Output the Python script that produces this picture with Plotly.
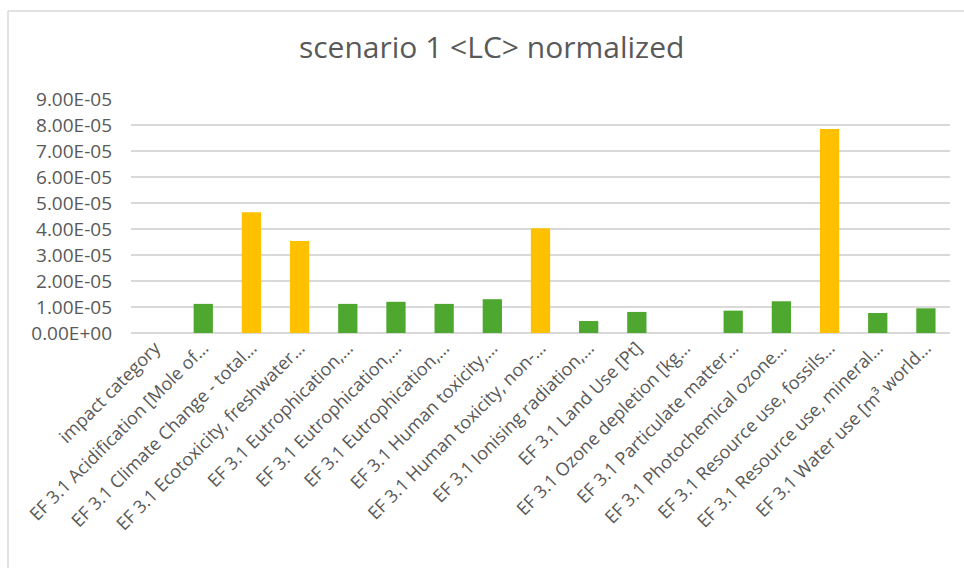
import plotly.graph_objects as go

# Impact categories (labels as shown on the axis, truncated)
categories = [
    "impact category",
    "EF 3.1 Acidification [Mole of…",
    "EF 3.1 Climate Change - total…",
    "EF 3.1 Ecotoxicity, freshwater…",
    "EF 3.1 Eutrophication,…",
    "EF 3.1 Eutrophication,…",
    "EF 3.1 Eutrophication,…",
    "EF 3.1 Human toxicity,…",
    "EF 3.1 Human toxicity, non-…",
    "EF 3.1 Ionising radiation,…",
    "EF 3.1 Land Use [Pt]",
    "EF 3.1 Ozone depletion [kg…",
    "EF 3.1 Particulate matter…",
    "EF 3.1 Photochemical ozone…",
    "EF 3.1 Resource use, fossils…",
    "EF 3.1 Resource use, mineral…",
    "EF 3.1 Water use [m³ world…",
]

# Normalized results for scenario 1 <LC>
values = [
    0.0,
    1.12e-05,
    4.64e-05,
    3.54e-05,
    1.12e-05,
    1.20e-05,
    1.12e-05,
    1.30e-05,
    4.03e-05,
    0.46e-05,
    0.81e-05,
    0.0,
    0.86e-05,
    1.22e-05,
    7.85e-05,
    0.77e-05,
    0.95e-05,
]

# Highlight flags: the most relevant categories are drawn in yellow
highlight = [False, False, True, True, False, False, False, False, True,
             False, False, False, False, False, True, False, False]

GREEN = "#4EA72E"
YELLOW = "#FFC000"

y_tickvals = [i * 1e-05 for i in range(10)]
y_ticktext = ["0.00E+00"] + [f"{i}.00E-05" for i in range(1, 10)]

positions = list(range(len(categories)))
colors = [YELLOW if h else GREEN for h in highlight]

fig = go.Figure(
    go.Bar(
        x=positions,
        y=values,
        width=0.4,
        marker=dict(color=colors, line=dict(width=0)),
        hovertext=categories,
    )
)

W, H = 964, 568
ML, MR, MT, MB = 131, 14, 99, 235
plot_w = W - ML - MR
plot_h = H - MT - MB

TEXT = "#595959"
GRID = "#D9D9D9"
FONT = "Open Sans"

# Chart-area frame (top and left edges fall inside the view)
fx = (8 - ML) / plot_w
fy = (H - MB - 11) / plot_h

fig.update_layout(
    width=W,
    height=H,
    margin=dict(l=ML, r=MR, t=MT, b=MB, pad=0),
    paper_bgcolor="white",
    plot_bgcolor="white",
    showlegend=False,
    font=dict(family=FONT, color=TEXT, size=18),
    title=dict(
        text="scenario 1 &lt;LC&gt; normalized",
        x=0.51,
        xanchor="center",
        y=1 - 47 / H,
        yanchor="middle",
        font=dict(family=FONT, size=30, color=TEXT),
    ),
    xaxis=dict(
        range=[-0.5, len(categories) - 0.5],
        tickmode="array",
        tickvals=positions,
        ticktext=categories,
        tickangle=-45,
        showgrid=False,
        zeroline=False,
        showline=False,
        ticks="",
        tickfont=dict(family=FONT, size=18, color=TEXT),
    ),
    yaxis=dict(
        range=[0, 9e-05],
        tickmode="array",
        tickvals=y_tickvals,
        ticktext=y_ticktext,
        showgrid=True,
        gridcolor=GRID,
        gridwidth=1.5,
        zeroline=True,
        zerolinecolor=GRID,
        zerolinewidth=1.5,
        showline=False,
        ticks="",
        ticklabelstandoff=18,
        tickfont=dict(family=FONT, size=19, color=TEXT),
    ),
    shapes=[
        dict(type="line", xref="paper", yref="paper", x0=fx, x1=1.2, y0=fy, y1=fy,
             line=dict(color=GRID, width=1.5)),
        dict(type="line", xref="paper", yref="paper", x0=fx, x1=fx, y0=fy, y1=-1.5,
             line=dict(color=GRID, width=1.5)),
    ],
)

fig.write_html("out.html")
